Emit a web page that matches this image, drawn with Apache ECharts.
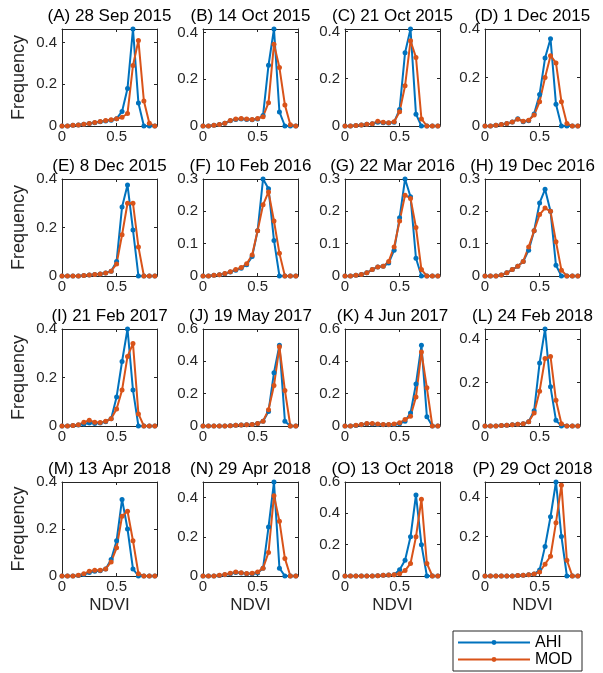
<!DOCTYPE html>
<html>
<head>
<meta charset="utf-8">
<script src="https://cdn.jsdelivr.net/npm/echarts@6/dist/echarts.min.js"></script>
<style>
  html, body { margin: 0; padding: 0; background: #fff; }
  #chart { width: 603px; height: 673px; }
</style>
</head>
<body>
<div id="chart"></div>
<script>
// NDVI histogram bins shared by every panel
const ndvi = [0, 0.05, 0.1, 0.15, 0.2, 0.25, 0.3, 0.35, 0.4, 0.45, 0.5, 0.55, 0.6, 0.65, 0.7, 0.75, 0.8, 0.85];

const panelTitles = [
  '(A) 28 Sep 2015', '(B) 14 Oct 2015', '(C) 21 Oct 2015', '(D) 1 Dec 2015',
  '(E) 8 Dec 2015', '(F) 10 Feb 2016', '(G) 22 Mar 2016', '(H) 19 Dec 2016',
  '(I) 21 Feb 2017', '(J) 19 May 2017', '(K) 4 Jun 2017', '(L) 24 Feb 2018',
  '(M) 13 Apr 2018', '(N) 29 Apr 2018', '(O) 13 Oct 2018', '(P) 29 Oct 2018'
];

// Frequency axis limits and tick steps, one per panel
const yMax  = [0.465, 0.415, 0.41, 0.4, 0.4, 0.3, 0.3, 0.3, 0.4, 0.6, 0.6, 0.446, 0.4, 0.48, 0.6, 0.476];
const yStep = [0.2, 0.2, 0.2, 0.2, 0.2, 0.1, 0.1, 0.1, 0.2, 0.2, 0.2, 0.2, 0.2, 0.2, 0.2, 0.2];

// Relative frequency per bin: AHI and MODIS
const ahiA = [0,0,0.003,0.005,0.008,0.012,0.016,0.02,0.024,0.028,0.035,0.07,0.18,0.465,0.11,0,0,0];
const modA = [0,0,0.003,0.005,0.008,0.012,0.017,0.022,0.026,0.03,0.035,0.042,0.06,0.29,0.41,0.12,0.013,0];
const ahiB = [0,0,0.003,0.006,0.012,0.022,0.028,0.03,0.028,0.027,0.03,0.045,0.26,0.415,0.06,0,0,0];
const modB = [0,0,0.003,0.006,0.012,0.024,0.03,0.032,0.03,0.028,0.032,0.04,0.1,0.35,0.25,0.09,0.005,0];
const ahiC = [0,0,0.002,0.004,0.007,0.01,0.016,0.014,0.013,0.016,0.07,0.31,0.41,0.05,0,0,0,0];
const modC = [0,0,0.002,0.004,0.007,0.01,0.02,0.016,0.014,0.018,0.06,0.17,0.36,0.29,0.03,0,0,0];
const ahiD = [0,0,0.003,0.006,0.01,0.016,0.03,0.018,0.022,0.05,0.13,0.28,0.36,0.09,0,0,0,0];
const modD = [0,0,0.003,0.006,0.01,0.016,0.028,0.02,0.024,0.045,0.1,0.2,0.29,0.26,0.1,0.01,0,0];
const ahiE = [0,0,0,0,0.002,0.004,0.006,0.008,0.012,0.02,0.06,0.285,0.375,0.19,0,0,0,0];
const modE = [0,0,0,0,0.002,0.004,0.006,0.008,0.012,0.02,0.05,0.17,0.3,0.3,0.12,0,0,0];
const ahiF = [0,0,0.002,0.004,0.007,0.012,0.018,0.024,0.035,0.06,0.14,0.3,0.27,0.11,0,0,0,0];
const modF = [0,0,0.002,0.004,0.008,0.013,0.02,0.026,0.038,0.065,0.14,0.22,0.26,0.17,0.07,0,0,0];
const ahiG = [0,0,0.002,0.005,0.01,0.02,0.028,0.03,0.04,0.08,0.18,0.3,0.245,0.055,0,0,0,0];
const modG = [0,0,0.002,0.005,0.01,0.02,0.028,0.03,0.045,0.09,0.17,0.25,0.24,0.15,0.02,0,0,0];
const ahiH = [0,0,0,0.003,0.01,0.02,0.03,0.045,0.08,0.14,0.226,0.268,0.2,0.033,0,0,0,0];
const modH = [0,0,0,0.003,0.01,0.02,0.03,0.045,0.09,0.14,0.19,0.21,0.2,0.106,0.018,0,0,0];
const ahiI = [0,0,0.002,0.004,0.008,0.012,0.01,0.012,0.018,0.03,0.12,0.266,0.4,0.148,0,0,0,0];
const modI = [0,0,0.002,0.005,0.015,0.024,0.015,0.014,0.02,0.03,0.07,0.148,0.287,0.34,0.05,0,0,0];
const ahiJ = [0,0,0,0,0,0.002,0.004,0.006,0.008,0.01,0.015,0.03,0.09,0.33,0.5,0.03,0,0];
const modJ = [0,0,0,0,0,0.002,0.004,0.006,0.008,0.01,0.015,0.03,0.1,0.25,0.49,0.22,0,0];
const ahiK = [0,0,0.003,0.008,0.014,0.012,0.01,0.008,0.008,0.01,0.014,0.03,0.08,0.26,0.5,0.057,0,0];
const modK = [0,0,0.004,0.01,0.016,0.015,0.012,0.01,0.01,0.012,0.02,0.04,0.06,0.18,0.457,0.236,0,0];
const ahiL = [0,0,0,0.002,0.004,0.006,0.008,0.01,0.02,0.07,0.29,0.446,0.18,0.026,0,0,0,0];
const modL = [0,0,0,0.002,0.004,0.006,0.008,0.01,0.02,0.06,0.16,0.31,0.32,0.118,0.01,0,0,0];
const ahiM = [0,0,0,0.002,0.006,0.015,0.02,0.022,0.03,0.07,0.15,0.326,0.2,0.03,0,0,0,0];
const modM = [0,0,0,0.003,0.01,0.02,0.025,0.025,0.03,0.06,0.12,0.254,0.276,0.15,0.01,0,0,0];
const ahiN = [0,0,0,0.003,0.006,0.012,0.018,0.015,0.012,0.012,0.015,0.04,0.25,0.48,0.04,0,0,0];
const modN = [0,0,0,0.004,0.008,0.014,0.02,0.016,0.013,0.014,0.02,0.04,0.12,0.41,0.28,0.09,0,0];
const ahiO = [0,0,0,0,0,0,0.002,0.004,0.006,0.008,0.04,0.1,0.25,0.517,0.2,0,0,0];
const modO = [0,0,0,0,0,0,0.002,0.004,0.006,0.008,0.015,0.035,0.08,0.25,0.49,0.08,0,0];
const ahiP = [0,0,0,0,0,0,0.002,0.004,0.006,0.01,0.03,0.15,0.3,0.476,0.2,0,0,0];
const modP = [0,0,0,0,0,0,0.002,0.004,0.006,0.01,0.02,0.06,0.1,0.27,0.46,0.08,0,0];

const ahiSeries = [ahiA, ahiB, ahiC, ahiD, ahiE, ahiF, ahiG, ahiH, ahiI, ahiJ, ahiK, ahiL, ahiM, ahiN, ahiO, ahiP];
const modSeries = [modA, modB, modC, modD, modE, modF, modG, modH, modI, modJ, modK, modL, modM, modN, modO, modP];

// Layout of the 4 x 4 panel grid
const colLeft = [62, 203, 345, 485];
const rowTop = [29, 179, 329, 482];
const rowHeight = [97, 97, 97, 94];
const plotWidth = 95;
const xMax = 0.87;

const FONT = '"Liberation Sans", Arial, sans-serif';
const AXIS_COLOR = '#262626';
const AHI_COLOR = '#0072BD';
const MOD_COLOR = '#D95319';

function stepLabel(step) {
  return function (v) {
    const r = v / step;
    if (Math.abs(r - Math.round(r)) > 1e-6) return '';
    return String(+v.toFixed(2));
  };
}

const grid = [], xAxis = [], yAxis = [], series = [], title = [], graphic = [];

for (let k = 0; k < 16; k++) {
  const row = Math.floor(k / 4), col = k % 4;
  const left = colLeft[col], top = rowTop[row], h = rowHeight[row];
  grid.push({ left: left, top: top, width: plotWidth, height: h, containLabel: false });

  const common = {
    gridIndex: k, type: 'value', splitLine: { show: false },
    axisLine: { show: true, onZero: false, lineStyle: { color: AXIS_COLOR, width: 1 } },
    axisTick: { show: true, inside: true, length: 3, lineStyle: { color: AXIS_COLOR } }
  };
  xAxis.push(Object.assign({}, common, {
    position: 'bottom', min: 0, max: xMax, interval: 0.5,
    axisLabel: { formatter: stepLabel(0.5), fontSize: 15, fontFamily: FONT, color: AXIS_COLOR, margin: 3 }
  }));
  xAxis.push(Object.assign({}, common, {
    position: 'top', min: 0, max: xMax, interval: 0.5, axisLabel: { show: false }
  }));
  yAxis.push(Object.assign({}, common, {
    position: 'left', min: 0, max: yMax[k], interval: yStep[k],
    axisLabel: { formatter: stepLabel(yStep[k]), fontSize: 15, fontFamily: FONT, color: AXIS_COLOR, margin: 5 }
  }));
  yAxis.push(Object.assign({}, common, {
    position: 'right', min: 0, max: yMax[k], interval: yStep[k], axisLabel: { show: false }
  }));

  const lineCommon = {
    type: 'line', xAxisIndex: 2 * k, yAxisIndex: 2 * k,
    symbol: 'circle', symbolSize: 5, showAllSymbol: true,
    animation: false, z: 3
  };
  series.push(Object.assign({}, lineCommon, {
    name: 'AHI',
    data: ndvi.map((x, i) => [x, ahiSeries[k][i]]),
    lineStyle: { color: AHI_COLOR, width: 2 },
    itemStyle: { color: AHI_COLOR }
  }));
  series.push(Object.assign({}, lineCommon, {
    name: 'MOD',
    data: ndvi.map((x, i) => [x, modSeries[k][i]]),
    lineStyle: { color: MOD_COLOR, width: 2 },
    itemStyle: { color: MOD_COLOR }
  }));

  title.push({
    text: panelTitles[k], left: left + plotWidth / 2, top: top - 21, textAlign: 'center',
    padding: 0,
    textStyle: { fontSize: 17, fontWeight: 'normal', fontFamily: FONT, color: '#000' }
  });

  if (col === 0) {
    graphic.push({
      type: 'text', x: 19, y: top + h / 2, rotation: Math.PI / 2,
      style: { text: 'Frequency', fontSize: 18, fontFamily: FONT, fill: AXIS_COLOR, align: 'center', verticalAlign: 'middle' }
    });
  }
  if (row === 3) {
    graphic.push({
      type: 'text', x: left + plotWidth / 2, y: top + h + 29,
      style: { text: 'NDVI', fontSize: 17, fontFamily: FONT, fill: AXIS_COLOR, align: 'center', verticalAlign: 'middle' }
    });
  }
}

// Legend frame
graphic.push({
  type: 'rect', shape: { x: 453, y: 631, width: 129, height: 40 },
  style: { fill: '#fff', stroke: AXIS_COLOR, lineWidth: 1 }, z: -1
});

function legendEntry(name, top) {
  return {
    data: [name], orient: 'vertical', left: 457, top: top,
    itemWidth: 72, itemHeight: 6, itemGap: 0, padding: 0,
    textStyle: { fontSize: 16, fontFamily: FONT, color: '#000', lineHeight: 17 }
  };
}

const chart = echarts.init(document.getElementById('chart'), null, { renderer: 'canvas' });
chart.setOption({
  animation: false,
  backgroundColor: '#fff',
  title: title,
  grid: grid,
  xAxis: xAxis,
  yAxis: yAxis,
  series: series,
  graphic: graphic,
  legend: [legendEntry('AHI', 634), legendEntry('MOD', 651)]
});
</script>
</body>
</html>
